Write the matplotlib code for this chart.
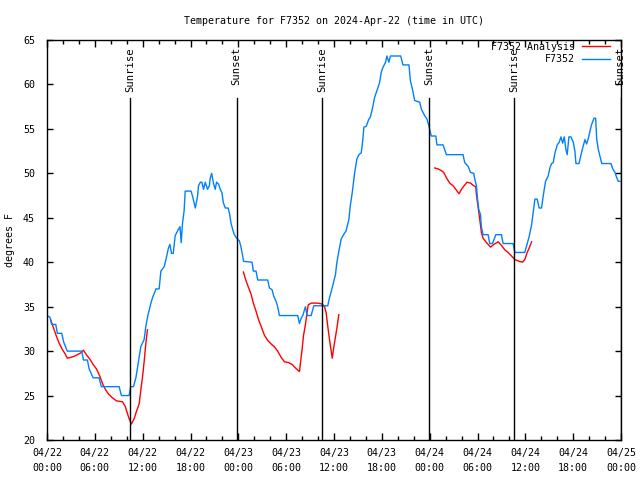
import numpy as np
import matplotlib
matplotlib.use("Agg")
from matplotlib import pyplot as plt
import matplotlib.dates as mdates

# hours since 2024-04-22 00:00 UTC
obs_hours = [0.0, 0.38, 0.59, 1.1, 1.3, 1.85, 2.1, 2.55, 4.36, 4.56, 5.06, 5.28, 5.78, 6.53, 6.82,
             9.05, 9.34, 10.3, 10.5, 10.85, 11.15, 11.56, 11.77, 12.19, 12.4, 12.65, 13.03, 13.23,
             13.66, 14.07, 14.29, 14.7, 14.92, 15.24, 15.42, 15.62, 15.83, 16.08, 16.37, 16.68, 16.84,
             17.0, 17.2, 17.34, 18.06, 18.26, 18.6, 18.89, 19.0, 19.23, 19.44, 19.64, 19.85, 20.14,
             20.36, 20.48, 20.65, 20.9, 21.1, 21.27, 21.52, 21.74, 21.95, 22.12, 22.37, 22.71, 22.87,
             23.08, 23.28, 23.5, 23.78, 24.13, 24.34, 24.67, 25.72, 25.89, 26.22, 26.43, 27.68, 27.9,
             28.24, 28.44, 28.74, 28.94, 29.15, 31.45, 31.67, 31.88, 32.08, 32.42, 32.63, 33.14, 33.46,
             35.22, 35.44, 35.65, 35.94, 36.19, 36.35, 36.6, 36.9, 37.2, 37.5, 37.86, 38.04, 38.29,
             38.58, 38.87, 39.12, 39.42, 39.62, 39.75, 40.05, 40.37, 40.55, 40.8, 41.09, 41.38, 41.72,
             41.93, 42.13, 42.47, 42.63, 42.89, 43.06, 44.36, 44.65, 45.4, 45.58, 45.83, 46.12, 46.75,
             46.96, 47.37, 47.66, 47.91, 48.09, 48.21, 48.76, 48.92, 49.68, 50.1, 52.19, 52.4, 52.82,
             53.12, 53.53, 53.66, 53.87, 54.0, 54.16, 54.37, 54.5, 54.7, 55.33, 55.54, 55.88, 56.3,
             57.0, 57.21, 58.47, 58.69, 59.94, 60.15, 60.48, 60.78, 60.98, 61.2, 61.49, 61.74, 62.04,
             62.24, 62.54, 62.87, 63.08, 63.29, 63.5, 63.71, 64.0, 64.25, 64.46, 64.68, 64.88, 65.09,
             65.25, 65.47, 65.72, 66.01, 66.22, 66.35, 66.73, 66.98, 67.27, 67.48, 67.69, 67.9, 68.11,
             68.32, 68.61, 68.82, 68.95, 69.15, 69.45, 69.58, 70.75, 70.96, 71.25, 71.46, 71.66, 71.87]
obs_temp = [34, 33.8, 33, 33, 32, 32, 31, 30, 30, 29, 29, 28, 27, 27, 26,
            26, 25, 25, 26, 26, 27, 29.4, 30.5, 31.3, 32.8, 34, 35.4, 36,
            37, 37, 39, 39.5, 40.3, 41.6, 42, 41, 41, 43, 43.5, 44, 42.2,
            44.4, 45.8, 48, 48, 47.4, 46.1, 47.4, 48.6, 49, 49, 48.2, 49, 48.2,
            48.6, 49.5, 50, 48.8, 48.2, 49, 48.8, 48.2, 47.8, 46.7, 46.1, 46.1, 45.6,
            44.4, 43.7, 43.1, 42.7, 42.4, 41.7, 40.1, 40, 39, 39, 38, 38, 37.1,
            36.9, 36.2, 35.6, 35, 34, 34, 33.1, 33.7, 34, 35, 34, 34, 35.1,
            35.1, 36, 36.7, 37.7, 38.6, 39.9, 41.2, 42.6, 43.1, 43.5, 44.8, 46.3, 47.8,
            50, 51.6, 52.1, 52.3, 53.8, 55.2, 55.3, 56.1, 56.3, 57.2, 58.5, 59.3, 60.2,
            61.4, 61.9, 62.5, 63.2, 62.5, 63.2, 63.2, 62.2, 62.2, 60.4, 59.5, 58.2, 58,
            57.2, 56.5, 56.1, 55.3, 54.6, 54.2, 54.2, 53.2, 53.2, 52.1, 52.1, 51.2, 50.8,
            50.1, 50, 49.3, 48.6, 47.1, 45.9, 45.4, 43.9, 43.1, 43.1, 42.1, 42.1, 43.1,
            43.1, 42.1, 42.1, 41.1, 41.1, 41.8, 42.9, 44.2, 45.6, 47.1, 47.1, 46.1, 46.1,
            47.4, 49.1, 49.7, 50.6, 51.1, 51.2, 52.3, 53.2, 53.5, 54.1, 53.4, 54.1, 52.7,
            52.1, 54.1, 54.1, 53.5, 52.5, 51.1, 51.1, 52.1, 53.1, 53.8, 53.3, 53.9, 54.8,
            55.5, 56.2, 56.2, 53.9, 52.7, 51.6, 51.1, 51.1, 50.5, 50.1, 49.5, 49.1, 49.1]

nan = float('nan')
ana_hours = [0.46, 0.75, 1.17, 1.51, 1.92, 2.26, 2.55, 2.98, 3.39, 3.81, 4.23, 4.56, 4.94, 5.37,
             5.78, 6.2, 6.62, 7.04, 7.38, 7.7, 8.13, 8.71, 9.46, 9.8, 10.09, 10.3, 10.59, 10.93,
             11.22, 11.56, 11.77, 11.98, 12.19, 12.4, 12.6, nan,
             24.63, 24.97, 25.3, 25.6, 25.89, 26.22, 26.55, 26.85, 27.27, 27.68, 28.11, 28.52, 28.94,
             29.37, 29.78, 30.32, 30.75, 31.16, 31.67, 31.83, 32.0, 32.17, 32.42, 32.59, 32.76, 33.14,
             33.97, 34.52, 34.81, 35.02, 35.22, 35.44, 35.65, 35.78, 35.94, 36.19, 36.4, 36.6, nan,
             48.63, 49.05, 49.47, 49.76, 50.1, 50.51, 50.93, 51.36, 51.68, 51.98, 52.31, 52.69, 53.12,
             53.53, 53.78, 53.87, 54.0, 54.16, 54.29, 54.5, 54.7, 55.13, 55.63, 56.05, 56.59, 57.0,
             57.42, 57.83, 58.26, 58.69, 59.23, 59.65, 59.94, 60.23, 60.48, 60.78]
ana_temp = [33.5, 32.8, 31.7, 30.9, 30.2, 29.7, 29.2, 29.3, 29.4, 29.6, 29.8, 30.1, 29.6, 29.1,
            28.5, 28.0, 27.2, 26.2, 25.6, 25.2, 24.8, 24.4, 24.3, 23.8, 23.0, 22.4, 21.8, 22.4,
            23.2, 24.1, 25.6, 27.1, 28.8, 30.9, 32.4, nan,
            38.9, 37.9, 37.1, 36.4, 35.4, 34.5, 33.5, 32.8, 31.8, 31.2, 30.8, 30.5, 30.0,
            29.3, 28.8, 28.7, 28.5, 28.1, 27.7, 29.0, 30.2, 31.7, 33.0, 34.1, 35.2, 35.4,
            35.4, 35.3, 35.0, 34.3, 32.8, 31.3, 30.0, 29.2, 30.2, 31.6, 32.8, 34.1, nan,
            50.6, 50.5, 50.3, 50.1, 49.5, 48.9, 48.6, 48.1, 47.7, 48.2, 48.6, 49.0, 48.9,
            48.6, 48.5, 47.6, 46.7, 45.6, 44.8, 43.3, 42.7, 42.2, 41.7, 42.0, 42.3, 41.9,
            41.4, 41.1, 40.7, 40.3, 40.1, 40.0, 40.3, 41.1, 41.6, 42.3]

sun_labels = ['Sunrise', 'Sunset', 'Sunrise', 'Sunset', 'Sunrise', 'Sunset']
sun_hours = [10.43, 23.79, 34.47, 47.91, 58.64, 71.97]

start = np.datetime64('2024-04-22T00:00')


def to_time(hours):
    mins = np.round(np.array(hours, dtype=float) * 60)
    out = np.full(len(mins), np.datetime64('NaT'), dtype='datetime64[m]')
    ok = ~np.isnan(mins)
    out[ok] = start + mins[ok].astype('timedelta64[m]')
    return out


font = 'DejaVu Sans Mono'
fs = 7.2
plt.rcParams['font.family'] = font
plt.rcParams['font.size'] = fs

fig = plt.figure(figsize=(6.4, 4.8), dpi=100)
ax = fig.add_axes([47 / 640, 40 / 480, 574 / 640, 400 / 480])

ax.plot(to_time(ana_hours), ana_temp, color='#ff0000', lw=1, label='F7352 Analysis')
ax.plot(to_time(obs_hours), obs_temp, color='#0080ff', lw=1, label='F7352')

trans = ax.get_xaxis_transform()
for lab, h in zip(sun_labels, sun_hours):
    t = to_time([h])[0]
    ax.axvline(t, ymin=0, ymax=0.855, color='black', lw=1)
    ax.text(t, 0.9825, lab, rotation=90, ha='center', va='top', transform=trans, fontsize=7.6)

ax.set_xlim(np.datetime64('2024-04-22T00:00'), np.datetime64('2024-04-25T00:00'))
ax.set_ylim(20, 65)
ax.set_yticks(np.arange(20, 66, 5))
ax.xaxis.set_major_locator(mdates.HourLocator(byhour=[0, 6, 12, 18]))
ax.xaxis.set_minor_locator(mdates.HourLocator(interval=2))
ax.xaxis.set_major_formatter(mdates.DateFormatter('%m/%d\n%H:%M'))
ax.tick_params(which='both', direction='in', top=True, right=True, labelsize=fs, width=1)
ax.tick_params(which='major', length=5, pad=6)
ax.tick_params(which='minor', length=3)
ax.tick_params(axis='y', length=4, pad=8.6)
for s in ax.spines.values():
    s.set_linewidth(1)

ax.set_ylabel('degrees F', fontsize=fs, labelpad=5.8)
ax.set_title('Temperature for F7352 on 2024-Apr-22 (time in UTC)', fontsize=fs, pad=11.8)

ax.legend(loc='upper right', bbox_to_anchor=(0.981, 0.995), frameon=False, markerfirst=False,
          handlelength=2.8, handletextpad=0.7, labelspacing=0.25, borderpad=0, borderaxespad=0,
          fontsize=fs)

fig.canvas.draw()
for lbl in ax.get_xticklabels():
    lbl.set_linespacing(1.6)

fig.savefig('out.png', dpi=100)
